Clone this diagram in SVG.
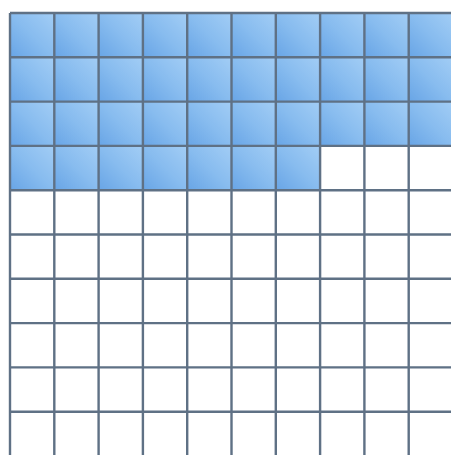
<svg xmlns="http://www.w3.org/2000/svg" width="451" height="455" viewBox="0 0 451 455">
<defs>
<linearGradient id="cell" x1="1" y1="0" x2="0" y2="1">
<stop offset="0" stop-color="#a2cdf5"/>
<stop offset="0.5" stop-color="#88bcef"/>
<stop offset="1" stop-color="#68a5e6"/>
</linearGradient>
<pattern id="cells" x="10" y="13" width="44.3" height="44.3" patternUnits="userSpaceOnUse">
<rect width="44.3" height="44.3" fill="url(#cell)"/>
</pattern>
</defs>
<style>
.grid{stroke:#5f7185;stroke-width:2.4;fill:none}
</style>
<rect width="451" height="455" fill="#ffffff"/>
<g id="shaded">
<rect x="10" y="13" width="441" height="132.9" fill="url(#cells)"/>
<rect x="10" y="145.9" width="310.1" height="44.3" fill="url(#cells)"/>
</g>
<g id="grid" class="grid">
<path d="M10 13V455M54.3 13V455M98.6 13V455M142.9 13V455M187.2 13V455M231.5 13V455M275.8 13V455M320.1 13V455M364.4 13V455M408.7 13V455"/>
<path d="M10 13H451M10 57.3H451M10 101.6H451M10 145.9H451M10 190.2H451M10 234.5H451M10 278.8H451M10 323.1H451M10 367.4H451M10 411.7H451"/>
</g>
</svg>
